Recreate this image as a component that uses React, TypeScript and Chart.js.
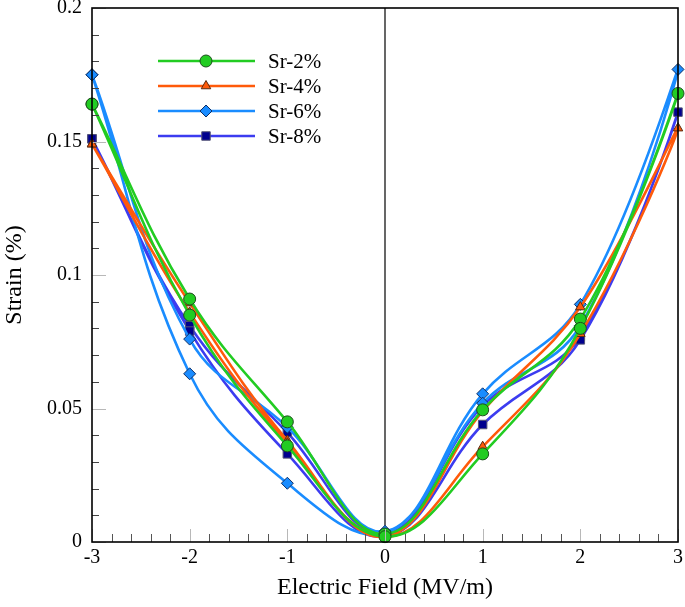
import { useEffect, useRef } from "react";
import { Chart, registerables } from "chart.js";
import type { Plugin } from "chart.js";
import { drawPoint } from "chart.js/helpers";

Chart.register(...registerables);

// field sweep: -3 -> 3 and back again (butterfly loop)
const FIELD = [-3, -2, -1, 0, 1, 2, 3, 2, 1, 0, -1, -2, -3];

const SR2 = [0.164, 0.091, 0.045, 0.003, 0.0495, 0.0835, 0.168, 0.08, 0.033, 0.002, 0.036, 0.085, 0.164];
const SR4 = [0.149, 0.0895, 0.038, 0.002, 0.049, 0.088, 0.155, 0.078, 0.0357, 0.002, 0.037, 0.086, 0.149];
const SR6 = [0.175, 0.076, 0.043, 0.004, 0.0555, 0.089, 0.177, 0.081, 0.052, 0.003, 0.022, 0.063, 0.175];
const SR8 = [0.151, 0.081, 0.041, 0.003, 0.051, 0.077, 0.161, 0.0757, 0.044, 0.002, 0.033, 0.079, 0.151];

const LABELS = ["Sr-2%", "Sr-4%", "Sr-6%", "Sr-8%"];

const SERIF = "'Liberation Serif', 'Times New Roman', serif";

const STYLES = [
  { line: "#22cc22", fill: "#22cc22", edge: "#1d4d1d", point: "circle", radius: 6 },
  { line: "#ff5a0a", fill: "#ff5a0a", edge: "#5a2a10", point: "triangle", radius: 5.5 },
  { line: "#1a8cff", fill: "#1a8cff", edge: "#0d2f66", point: "rectRot", radius: 6 },
  { line: "#3c3cf0", fill: "#00008f", edge: "#555577", point: "rect", radius: 6 },
];

const frame: Plugin<"line"> = {
  id: "frame",
  beforeDatasetsDraw(chart) {
    const { ctx, chartArea, scales } = chart;
    const x0 = scales.x.getPixelForValue(0);
    ctx.save();
    ctx.strokeStyle = "#000";
    ctx.lineWidth = 1.2;
    ctx.beginPath();
    ctx.moveTo(x0, chartArea.top);
    ctx.lineTo(x0, chartArea.bottom);
    ctx.stroke();
    ctx.restore();
  },
  afterDraw(chart) {
    const { ctx, chartArea, scales } = chart;
    const { left, right, top, bottom } = chartArea;
    ctx.save();
    ctx.lineWidth = 1;
    // y ticks, inward
    for (let i = 0; i <= 20; i++) {
      const py = Math.round(scales.y.getPixelForValue(i * 0.01)) + 0.5;
      const major = i % 5 === 0;
      ctx.strokeStyle = major ? "#b8b8b8" : "#444";
      ctx.beginPath();
      ctx.moveTo(left, py);
      ctx.lineTo(left + (major ? 14 : 7), py);
      ctx.stroke();
    }
    // x ticks, inward
    for (let i = 0; i <= 30; i++) {
      const px = Math.round(scales.x.getPixelForValue(-3 + i * 0.2)) + 0.5;
      const major = i % 5 === 0;
      ctx.strokeStyle = major ? "#b8b8b8" : "#555";
      ctx.beginPath();
      ctx.moveTo(px, bottom);
      ctx.lineTo(px, bottom - (major ? 13 : 8));
      ctx.stroke();
    }
    ctx.strokeStyle = "#000";
    ctx.lineWidth = 1.6;
    ctx.strokeRect(left, top, right - left, bottom - top);

    // legend
    const lx = left + 66;
    STYLES.forEach((s, k) => {
      const ly = top + 53 + k * 25;
      ctx.strokeStyle = s.line;
      ctx.lineWidth = 2.6;
      ctx.beginPath();
      ctx.moveTo(lx, ly);
      ctx.lineTo(lx + 97, ly);
      ctx.stroke();
      ctx.fillStyle = s.fill;
      ctx.strokeStyle = s.edge;
      ctx.lineWidth = 1;
      drawPoint(ctx, { pointStyle: s.point as any, radius: s.radius, rotation: 0, borderWidth: 1 }, lx + 48, ly);
      ctx.fillStyle = "#000";
      ctx.font = `21px ${SERIF}`;
      ctx.textBaseline = "middle";
      ctx.fillText(LABELS[k], lx + 110, ly + 1);
    });
    ctx.restore();
  },
};

export default function App() {
  const chartRef = useRef<HTMLCanvasElement>(null);

  useEffect(() => {
    document.body.style.margin = "0";
    if (!chartRef.current) return;
    const ctx = chartRef.current.getContext("2d");
    if (!ctx) return;

    const series = [SR2, SR4, SR6, SR8];
    const chartInstance = new Chart(ctx, {
      type: "line",
      data: {
        datasets: series.map((vals, k) => ({
          label: LABELS[k],
          data: FIELD.map((f, i) => ({ x: f, y: vals[i] })),
          borderColor: STYLES[k].line,
          backgroundColor: STYLES[k].fill,
          pointBackgroundColor: STYLES[k].fill,
          pointBorderColor: STYLES[k].edge,
          pointBorderWidth: 1,
          pointStyle: STYLES[k].point as any,
          pointRadius: STYLES[k].radius,
          borderWidth: 2.6,
          tension: 0.4,
          fill: false,
          clip: false as any,
        })),
      },
      options: {
        animation: false,
        responsive: true,
        maintainAspectRatio: false,
        layout: { padding: { top: 8, right: 6, left: 0, bottom: 0 } },
        plugins: {
          legend: { display: false },
          tooltip: { enabled: false },
        },
        scales: {
          x: {
            type: "linear",
            min: -3,
            max: 3,
            grid: { display: false, drawTicks: false },
            border: { display: false },
            ticks: {
              stepSize: 1,
              padding: 4,
              color: "#000",
              font: { family: SERIF, size: 20 },
            },
            title: {
              display: true,
              text: "Electric Field (MV/m)",
              color: "#000",
              font: { family: SERIF, size: 24 },
              padding: { top: 0, bottom: 5 },
            },
            afterFit(scale) {
              scale.height = 65;
              scale.paddingLeft = 0;
              scale.paddingRight = 0;
            },
          },
          y: {
            min: 0,
            max: 0.2,
            grid: { display: false, drawTicks: false },
            border: { display: false },
            ticks: {
              stepSize: 0.05,
              padding: 10,
              color: "#000",
              font: { family: SERIF, size: 20 },
              callback: (v) => String(Number(Number(v).toFixed(2))),
            },
            title: {
              display: true,
              text: "Strain (%)",
              color: "#000",
              font: { family: SERIF, size: 24 },
              padding: 0,
            },
            afterFit(scale) {
              scale.width = 92;
              scale.paddingTop = 0;
              scale.paddingBottom = 0;
            },
          },
        },
      },
      plugins: [frame],
    });

    return () => {
      chartInstance.destroy();
    };
  }, []);

  return (
    <div style={{ width: 685, height: 607, position: "relative" }}>
      <canvas ref={chartRef}></canvas>
    </div>
  );
}
